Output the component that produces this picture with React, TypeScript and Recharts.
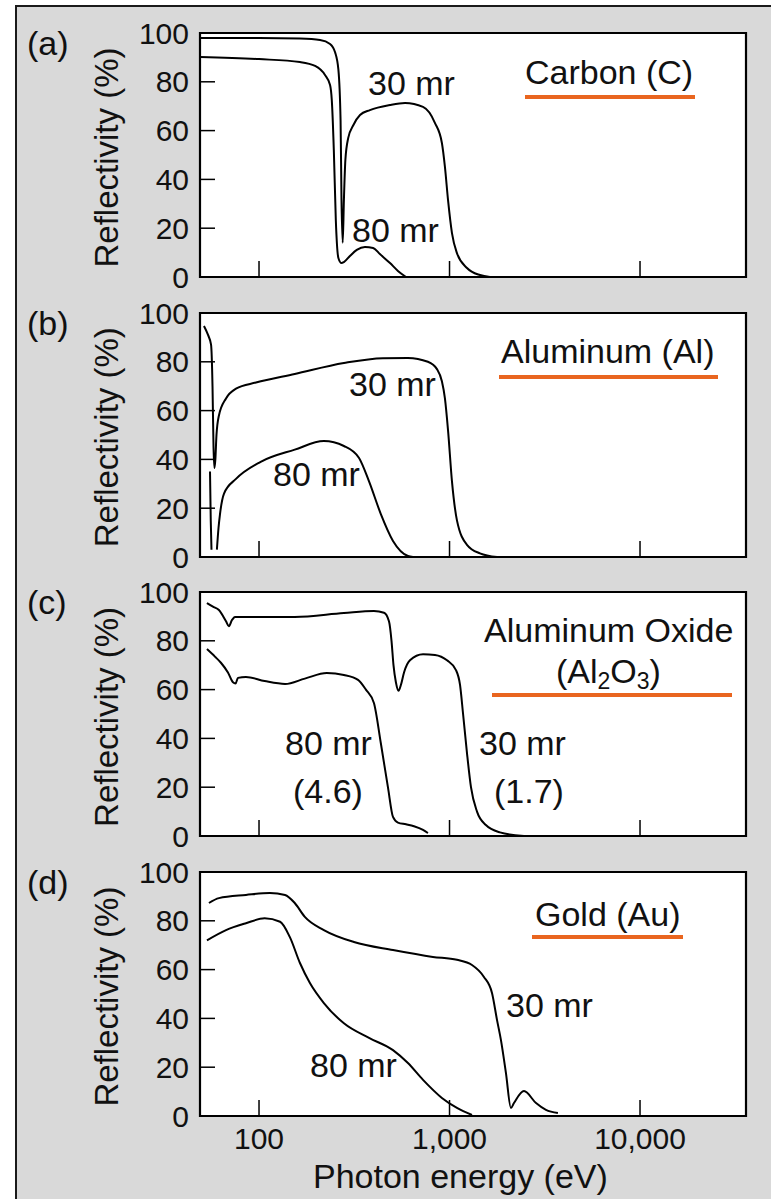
import React from 'react';
import { LineChart, Line, XAxis, YAxis, ReferenceArea, CartesianGrid } from 'recharts';

const FONT = '"Liberation Sans", Arial, Helvetica, sans-serif';
const E_MIN = 49;
const E_MAX = 36000;
const xTicks = [100, 1000, 10000];
const yTicks = [0, 20, 40, 60, 80, 100];

type Pt = { e: number; r: number | null };

// (a) Carbon
const carbon30: Pt[] = [
  { e: 49, r: 98 }, { e: 100, r: 98 }, { e: 164, r: 97.7 }, { e: 209, r: 97.1 },
  { e: 236, r: 95.5 }, { e: 251, r: 92 }, { e: 261, r: 85 }, { e: 268, r: 64 },
  { e: 271, r: 31.6 }, { e: 275, r: 14 }, { e: 279, r: 31.6 }, { e: 284, r: 48 },
  { e: 294, r: 57 }, { e: 313, r: 62.3 }, { e: 339, r: 66.4 }, { e: 382, r: 68.4 },
  { e: 487, r: 70.5 }, { e: 584, r: 71.3 }, { e: 726, r: 69.7 }, { e: 839, r: 63.1 },
  { e: 912, r: 54.9 }, { e: 946, r: 45.1 }, { e: 982, r: 31.6 }, { e: 1030, r: 18 },
  { e: 1094, r: 9.8 }, { e: 1235, r: 3.7 }, { e: 1445, r: 0.8 }, { e: 1630, r: 0 },
];
const carbon80: Pt[] = [
  { e: 49, r: 90.2 }, { e: 100, r: 89.3 }, { e: 164, r: 88.1 }, { e: 197, r: 86.5 },
  { e: 222, r: 82.8 }, { e: 236, r: 78.7 }, { e: 241, r: 72.5 }, { e: 247, r: 52 },
  { e: 253, r: 23.4 }, { e: 261, r: 7.8 }, { e: 271, r: 5.7 }, { e: 279, r: 6.1 },
  { e: 300, r: 8.6 }, { e: 326, r: 11.1 }, { e: 360, r: 12.3 }, { e: 397, r: 11.9 },
  { e: 431, r: 9.4 }, { e: 487, r: 5.7 }, { e: 536, r: 2.5 }, { e: 591, r: 0 },
];

// (b) Aluminum
const al30: Pt[] = [
  { e: 51.4, r: 94.7 }, { e: 54, r: 91 }, { e: 56, r: 87 }, { e: 57, r: 70 },
  { e: 57.7, r: 45 }, { e: 58.3, r: 36.5 }, { e: 59, r: 40 }, { e: 59.8, r: 50 },
  { e: 61.6, r: 58 }, { e: 67.1, r: 65 }, { e: 75.7, r: 69 }, { e: 96.4, r: 71.5 },
  { e: 154, r: 75 }, { e: 279, r: 79.5 }, { e: 447, r: 81.5 }, { e: 605, r: 81.6 },
  { e: 770, r: 80 }, { e: 859, r: 77 }, { e: 912, r: 72 }, { e: 946, r: 65 },
  { e: 982, r: 52 }, { e: 1030, r: 31 }, { e: 1094, r: 15 }, { e: 1235, r: 5 },
  { e: 1445, r: 1.5 }, { e: 1776, r: 0 },
];
const al80: Pt[] = [
  { e: 55.3, r: 35 }, { e: 55.8, r: 15 }, { e: 56.3, r: 3 }, { e: 58, r: null },
  { e: 60.1, r: 3 }, { e: 61.3, r: 12 }, { e: 62.4, r: 17.6 }, { e: 65.5, r: 26 },
  { e: 75.7, r: 32 }, { e: 102, r: 39 }, { e: 154, r: 44 }, { e: 219, r: 47.5 },
  { e: 279, r: 45.5 }, { e: 335, r: 40.6 }, { e: 378, r: 31 }, { e: 436, r: 17.6 },
  { e: 505, r: 6.6 }, { e: 605, r: 0.4 }, { e: 643, r: 0 },
];

// (c) Aluminum oxide
const alox30: Pt[] = [
  { e: 53.3, r: 95.5 }, { e: 57.3, r: 94 }, { e: 61.6, r: 92.6 }, { e: 67.1, r: 88 },
  { e: 69.5, r: 86 }, { e: 72.1, r: 88.5 }, { e: 74.8, r: 89.8 }, { e: 85.4, r: 89.8 },
  { e: 154, r: 89.8 }, { e: 279, r: 91.4 }, { e: 401, r: 92.2 }, { e: 453, r: 91.5 },
  { e: 481, r: 88 }, { e: 496, r: 80 }, { e: 508, r: 70 }, { e: 523, r: 63 },
  { e: 540, r: 59.5 }, { e: 556, r: 62 }, { e: 577, r: 67 }, { e: 620, r: 72 },
  { e: 726, r: 74.5 }, { e: 839, r: 74.2 }, { e: 970, r: 72 }, { e: 1081, r: 68 },
  { e: 1135, r: 62 }, { e: 1178, r: 50 }, { e: 1235, r: 34 }, { e: 1296, r: 20 },
  { e: 1394, r: 10 }, { e: 1552, r: 4.5 }, { e: 1840, r: 1.5 }, { e: 2460, r: 0 },
];
const alox80: Pt[] = [
  { e: 53.3, r: 76.6 }, { e: 58.7, r: 73.5 }, { e: 63.1, r: 71 }, { e: 68.7, r: 67 },
  { e: 73, r: 63 }, { e: 75.3, r: 62.5 }, { e: 77.5, r: 64.8 }, { e: 85.4, r: 65.2 },
  { e: 107, r: 63.5 }, { e: 137, r: 62.3 }, { e: 174, r: 64.5 }, { e: 227, r: 66.8 },
  { e: 279, r: 66 }, { e: 331, r: 64 }, { e: 364, r: 60 }, { e: 401, r: 54.5 },
  { e: 436, r: 38 }, { e: 475, r: 20 }, { e: 505, r: 7.8 }, { e: 536, r: 5.5 },
  { e: 591, r: 4.8 }, { e: 651, r: 4 }, { e: 726, r: 2.5 }, { e: 770, r: 1.2 },
];

// (d) Gold
const gold30: Pt[] = [
  { e: 54.6, r: 87.3 }, { e: 61.6, r: 89.3 }, { e: 85.4, r: 90.6 }, { e: 114, r: 91.4 },
  { e: 137, r: 90.6 }, { e: 154, r: 87.3 }, { e: 174, r: 81.6 }, { e: 219, r: 76.2 },
  { e: 315, r: 71.3 }, { e: 505, r: 68 }, { e: 818, r: 65.2 }, { e: 1094, r: 64 },
  { e: 1312, r: 61.9 }, { e: 1516, r: 57 }, { e: 1671, r: 50.4 }, { e: 1776, r: 39.3 },
  { e: 1862, r: 31.1 }, { e: 1978, r: 17.6 }, { e: 2101, r: 3.3 }, { e: 2179, r: 5.3 },
  { e: 2460, r: 10.2 }, { e: 2845, r: 5.3 }, { e: 3208, r: 2.5 }, { e: 3706, r: 1.2 },
];
const gold80: Pt[] = [
  { e: 53.3, r: 72 }, { e: 67.1, r: 76.2 }, { e: 85.4, r: 79 }, { e: 107, r: 81 },
  { e: 129, r: 79.6 }, { e: 145, r: 73.4 }, { e: 164, r: 62.7 }, { e: 185, r: 54.5 },
  { e: 219, r: 46.3 }, { e: 279, r: 38 }, { e: 378, r: 32 }, { e: 505, r: 27 },
  { e: 605, r: 21.7 }, { e: 726, r: 14.8 }, { e: 912, r: 7.4 }, { e: 1094, r: 3.3 },
  { e: 1312, r: 0.4 },
];

const PLOT_TOPS = [33, 312.7, 592.4, 872.1];
const TOP_M = 22;

function Panel({ top, d30, d80, showX }: { top: number; d30: Pt[]; d80: Pt[]; showX: boolean }) {
  const h = showX ? 244 + TOP_M + 30 + 26 : 244 + TOP_M + 30 + 4;
  return (
    <div style={{ position: 'absolute', left: 0, top: top - TOP_M }}>
      <LineChart
        width={771}
        height={h}
        margin={{ top: TOP_M, right: 25, bottom: showX ? 26 : 4, left: 140 }}
      >
        <CartesianGrid horizontal={false} vertical={false} fill="#ffffff" fillOpacity={1} />
        <XAxis
          type="number"
          dataKey="e"
          scale="log"
          domain={[E_MIN, E_MAX]}
          allowDataOverflow
          ticks={xTicks}
          interval={0}
          height={30}
          tickSize={-16}
          tickMargin={28}
          axisLine={false}
          tickLine={{ stroke: '#000', strokeWidth: 1.5 }}
          tickFormatter={(v: number) => (showX ? v.toLocaleString('en-US') : '')}
          tick={{ fill: '#111', fontSize: 30, fontFamily: FONT }}
        />
        <YAxis
          type="number"
          domain={[0, 100]}
          ticks={yTicks}
          interval={0}
          width={60}
          tickSize={-15}
          tickMargin={26}
          axisLine={false}
          tickLine={{ stroke: '#000', strokeWidth: 1.5 }}
          tick={{ fill: '#111', fontSize: 30, fontFamily: FONT }}
        />
        <Line data={d30} dataKey="r" type="monotone" dot={false} stroke="#000" strokeWidth={2} isAnimationActive={false} />
        <Line data={d80} dataKey="r" type="monotone" dot={false} stroke="#000" strokeWidth={2} isAnimationActive={false} />
        <ReferenceArea x1={E_MIN} x2={E_MAX} y1={0} y2={100} fill="none" fillOpacity={0} stroke="#000" strokeWidth={2.2} />
      </LineChart>
    </div>
  );
}

const ORANGE = '#e9651f';
const TXT = '#111';

export default function App() {
  const dy = 279.7;
  return (
    <div style={{ position: 'absolute', left: 0, top: 0, width: 771, height: 1199, fontFamily: FONT }}>
      <div
        style={{
          position: 'absolute', left: 15, top: 5, width: 756, height: 1194,
          background: '#d9d9d9', borderLeft: '2px solid #1a1a1a', borderTop: '2px solid #1a1a1a',
          boxSizing: 'border-box',
        }}
      />
      <Panel top={PLOT_TOPS[0]} d30={carbon30} d80={carbon80} showX={false} />
      <Panel top={PLOT_TOPS[1]} d30={al30} d80={al80} showX={false} />
      <Panel top={PLOT_TOPS[2]} d30={alox30} d80={alox80} showX={false} />
      <Panel top={PLOT_TOPS[3]} d30={gold30} d80={gold80} showX={true} />
      <svg width={771} height={1199} style={{ position: 'absolute', left: 0, top: 0, pointerEvents: 'none' }}>
        <g fontFamily={FONT} fontSize={34} fill={TXT}>
          {['(a)', '(b)', '(c)', '(d)'].map((t, i) => (
            <text key={t} x={27} y={55 + i * dy}>{t}</text>
          ))}
          {PLOT_TOPS.map((t, i) => (
            <text key={'yl' + i} fontSize={33} textAnchor="middle" transform={`translate(118, ${t + 124.5}) rotate(-90)`}>
              Reflectivity (%)
            </text>
          ))}
          {/* (a) */}
          <text x={525} y={84}>Carbon (C)</text>
          <text x={368} y={95}>30 mr</text>
          <text x={352} y={242}>80 mr</text>
          {/* (b) */}
          <text x={501} y={363}>Aluminum (Al)</text>
          <text x={349} y={396}>30 mr</text>
          <text x={273} y={486}>80 mr</text>
          {/* (c) */}
          <text x={484} y={642}>Aluminum Oxide</text>
          <text x={556} y={683}>
            (Al<tspan fontSize={23} dy={6}>2</tspan><tspan dy={-6}>O</tspan><tspan fontSize={23} dy={6}>3</tspan><tspan dy={-6}>)</tspan>
          </text>
          <text x={285} y={755}>80 mr</text>
          <text x={293} y={803}>(4.6)</text>
          <text x={479} y={755}>30 mr</text>
          <text x={494} y={803}>(1.7)</text>
          {/* (d) */}
          <text x={535} y={926}>Gold (Au)</text>
          <text x={506} y={1017}>30 mr</text>
          <text x={310} y={1077}>80 mr</text>
          <text x={313} y={1188}>Photon energy (eV)</text>
        </g>
        <g fill={ORANGE}>
          <rect x={525} y={95} width={170} height={4} />
          <rect x={499} y={375} width={219} height={4} />
          <rect x={492} y={693} width={240} height={4} />
          <rect x={532} y={935} width={151} height={4} />
        </g>
      </svg>
    </div>
  );
}
